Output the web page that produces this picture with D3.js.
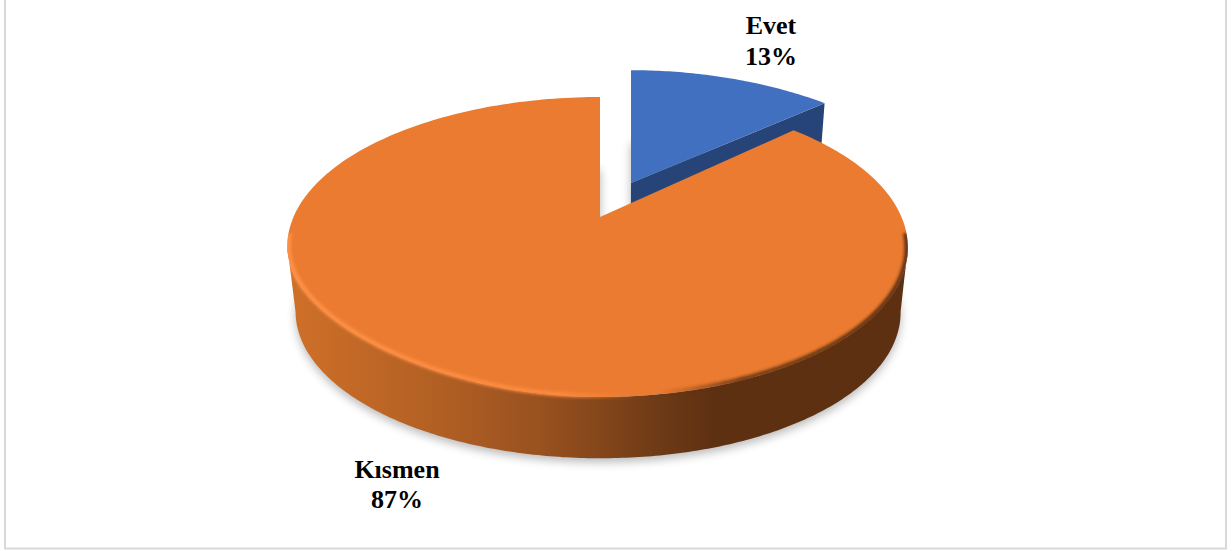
<!DOCTYPE html>
<html><head><meta charset="utf-8">
<script src="https://cdn.jsdelivr.net/npm/d3@7"></script>
<style>html,body{margin:0;padding:0;background:#fff}svg{display:block}text{font-family:"Liberation Serif",serif;font-weight:700;font-size:26px;fill:#000;text-anchor:middle}</style>
</head><body><script>
const categories = ["Evet", "Kısmen"];
const values = [13, 87];
const percentLabels = ["13%", "87%"];
const topColors = ["#4270c0", "#eb7b30"];
const sideColors = ["#264478", "#8a4a1c"];

const W = 1232, H = 551;
const svg = d3.select("body").append("svg").attr("width", W).attr("height", H);
const defs = svg.append("defs");

// Perspective view of the pie's top disc
const P = {apexX: 600, k: 304, a: 100.6, b: 217, c: -0.2};
function proj(u, v, dx = 0, dv = 0) {
  const d0 = 1 + P.c * v, vv = v + dv, d1 = 1 + P.c * vv;
  return [P.apexX - 2.5 * u * u + dx + P.k * u / d0, (P.a * vv + P.b) / d1];
}
const rimPt = (th, dx, dv) => proj(Math.sin(th), -Math.cos(th), dx, dv);
// the picture's front-left rim sits a little higher than a true ellipse
const topRimPt = th => {
  const [x, y] = rimPt(th);
  const inQuad = th > Math.PI && th < 1.5 * Math.PI;
  return [x, y - (inQuad ? 6 * Math.sin(2 * th) ** 2 : 0)];
};
const under = ([x, y]) => [598 + (x - 597.5) * 0.975, 312 + (y - 247) * 0.975];
const line = d3.line().curve(d3.curveLinear);

const arcs = d3.pie().sort(null).startAngle(0).endAngle(2 * Math.PI)(values);
const angles = (a, b, n = 240) => d3.range(n + 1).map(i => a + (b - a) * i / n);

const evet = arcs[0], kismen = arcs[1];
const exDx = 31, exDv = -0.248;
const evetRim = angles(evet.startAngle, evet.endAngle, 60).map(t => {
  const [x, y] = rimPt(t, exDx, exDv);
  return [x, y - 3 * Math.cos(t) ** 4];
});
const evetApex = proj(0, 0, exDx, exDv);
const kisAngles = angles(kismen.startAngle, kismen.endAngle);
const kisRim = kisAngles.map(topRimPt);
const kisBase = kisAngles.map(t => under(rimPt(t)));
const kisApex = proj(0, 0);
const evetTop = [evetApex, ...evetRim];
const kisTop = [kisApex, ...kisRim];

// filters and gradients
const blur = (id, s) => defs.append("filter").attr("id", id)
  .attr("x", "-20%").attr("y", "-20%").attr("width", "140%").attr("height", "140%")
  .append("feGaussianBlur").attr("stdDeviation", s);
blur("shadow", 5); blur("soft", 1.4);

const grad = (id, stops) => {
  const g = defs.append("linearGradient").attr("id", id).attr("gradientUnits", "userSpaceOnUse")
    .attr("x1", 288).attr("x2", 907).attr("y1", 0).attr("y2", 0);
  stops.forEach(s => g.append("stop").attr("offset", (s[0] - 288) / 619).attr("stop-color", s[1]).attr("stop-opacity", s[2] ?? 1));
};
grad("side", [[288, "#cf7029"], [360, "#c16826"], [450, "#af5e23"], [540, "#99511f"], [600, "#84461b"], [660, "#6d3a16"], [715, "#5e3012"], [907, "#5e3012"]]);
grad("rim", [[288, "#ff9148", 1], [560, "#fb8a3e", 1], [640, "#f58436", 0], [660, "#5e3012", 0], [740, "#5e3012", 0.85], [907, "#5e3012", 1]]);

// frame
svg.append("rect").attr("x", 5).attr("y", -5).attr("width", 1221).attr("height", 553.5)
  .attr("fill", "#fff").attr("stroke", "#d9d9d9").attr("stroke-width", 2);

// front wall runs between the two silhouette angles of the disc
const wallAngles = angles(1.77, 4.51, 240);
const wallPath = line([...wallAngles.map(topRimPt), ...wallAngles.slice().reverse().map(t => under(rimPt(t)))]) + "Z";

// soft shadow under the solids
const shadows = svg.append("g").attr("filter", "url(#shadow)").attr("fill", "#000").attr("opacity", 0.27);
shadows.append("path").attr("d", line(evetTop.map(under).map(([x, y]) => [x, y + 4])) + "Z");
shadows.append("path").attr("d", line([under(kisApex), ...kisBase].map(([x, y]) => [x, y + 4])) + "Z");

// Evet solid
const evetEnd = evetRim[evetRim.length - 1];
svg.append("path").attr("fill", sideColors[0])
  .attr("d", line([evetApex, evetEnd, under(evetEnd), under(evetApex)]) + "Z");
svg.append("path").attr("fill", topColors[0]).attr("d", line(evetTop) + "Z");

// Kısmen solid: outer wall, then top face
svg.append("path").attr("fill", "url(#side)").attr("d", wallPath);
svg.append("path").attr("fill", topColors[1]).attr("d", line(kisTop) + "Z");

// bevel along the front of the top face, kept inside the solid's outline
const clip = defs.append("clipPath").attr("id", "solid");
clip.append("path").attr("d", wallPath);
clip.append("path").attr("d", line(kisTop) + "Z");
const frontRim = angles(1.68, 4.6, 300).map(topRimPt).map(([x, y]) => [597.5 + (x - 597.5) * 0.996, 247 + (y - 247) * 0.992]);
svg.append("g").attr("clip-path", "url(#solid)").append("path")
  .attr("d", line(frontRim)).attr("fill", "none").attr("stroke", "url(#rim)")
  .attr("stroke-width", 4.5).attr("filter", "url(#soft)");

// labels
const labelPos = [[771, 34, 65], [397, 478, 508]];
categories.forEach((c, i) => {
  svg.append("text").attr("x", labelPos[i][0]).attr("y", labelPos[i][1]).text(c);
  svg.append("text").attr("x", labelPos[i][0]).attr("y", labelPos[i][2]).text(percentLabels[i]);
});
</script></body></html>
